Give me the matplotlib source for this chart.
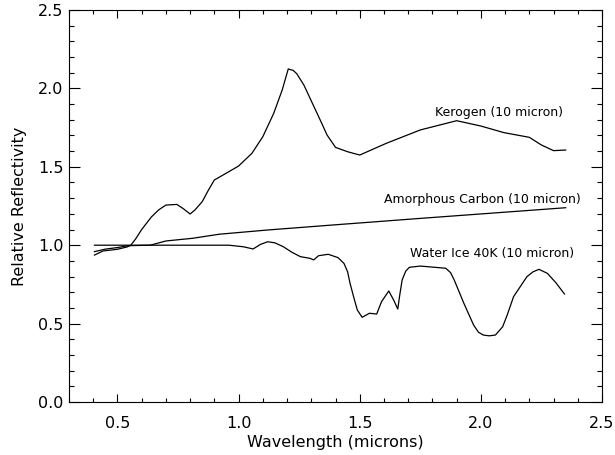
import matplotlib
matplotlib.use('Agg')
import matplotlib.pyplot as plt
from matplotlib.ticker import MultipleLocator

# ============================================================
# SPECTRA
# ============================================================
kerogen_wl = [0.405, 0.44, 0.50, 0.54, 0.555, 0.575, 0.60, 0.64, 0.67, 0.70,
              0.745, 0.77, 0.80, 0.82, 0.85, 0.875, 0.90, 0.95, 1.00, 1.055,
              1.10, 1.145, 1.18, 1.205, 1.225, 1.24, 1.27, 1.295, 1.34, 1.365,
              1.40, 1.45, 1.50, 1.61, 1.75, 1.90, 2.00, 2.095, 2.20, 2.25,
              2.30, 2.35]
kerogen_refl = [0.937, 0.963, 0.974, 0.989, 1.000, 1.040, 1.100, 1.180, 1.225, 1.256,
                1.260, 1.235, 1.199, 1.225, 1.278, 1.350, 1.416, 1.460, 1.505, 1.586,
                1.692, 1.841, 1.990, 2.124, 2.115, 2.094, 2.020, 1.937, 1.788, 1.703,
                1.624, 1.596, 1.575, 1.650, 1.735, 1.794, 1.760, 1.718, 1.688, 1.639,
                1.603, 1.607]

carbon_wl = [0.405, 0.45, 0.50, 0.545, 0.635, 0.70, 0.81, 0.92, 1.12, 1.39,
             1.75, 2.05, 2.35]
carbon_refl = [0.959, 0.975, 0.985, 0.997, 1.000, 1.027, 1.044, 1.070, 1.097, 1.129,
               1.171, 1.205, 1.239]

ice_wl = [0.405, 0.96, 1.02, 1.06, 1.09, 1.12, 1.15, 1.185, 1.22, 1.255,
          1.295, 1.31, 1.33, 1.37, 1.41, 1.435, 1.45, 1.46, 1.475, 1.49,
          1.51, 1.54, 1.57, 1.59, 1.62, 1.64, 1.657, 1.665, 1.675, 1.69,
          1.705, 1.75, 1.855, 1.875, 1.89, 1.93, 1.97, 1.99, 2.01, 2.035,
          2.06, 2.09, 2.11, 2.135, 2.19, 2.215, 2.24, 2.275, 2.31, 2.345]
ice_refl = [1.000, 1.000, 0.990, 0.976, 1.005, 1.022, 1.015, 0.990, 0.955, 0.927,
            0.916, 0.906, 0.933, 0.942, 0.921, 0.884, 0.830, 0.757, 0.670, 0.587,
            0.540, 0.566, 0.561, 0.640, 0.708, 0.650, 0.593, 0.680, 0.778, 0.835,
            0.859, 0.867, 0.853, 0.825, 0.778, 0.629, 0.491, 0.445, 0.427, 0.422,
            0.427, 0.480, 0.560, 0.672, 0.799, 0.830, 0.846, 0.820, 0.760, 0.689]

labels = ['Kerogen (10 micron)', 'Amorphous Carbon (10 micron)', 'Water Ice 40K (10 micron)']
label_x = [2.337, 2.412, 2.383]
label_y = [1.846, 1.293, 0.948]

# ============================================================
# PLOT
# ============================================================
fig = plt.figure(figsize=(6.15, 4.55), dpi=100)
ax = fig.add_axes([69/615, 53/455, 533/615, 392/455])

ax.plot(kerogen_wl, kerogen_refl, color='black', linewidth=0.9)
ax.plot(carbon_wl, carbon_refl, color='black', linewidth=0.9)
ax.plot(ice_wl, ice_refl, color='black', linewidth=0.9)

for txt, tx, ty in zip(labels, label_x, label_y):
    ax.text(tx, ty, txt, ha='right', va='center', fontsize=9)

ax.set_xlim(0.3, 2.5)
ax.set_ylim(0.0, 2.5)
ax.xaxis.set_major_locator(MultipleLocator(0.5))
ax.xaxis.set_minor_locator(MultipleLocator(0.1))
ax.yaxis.set_major_locator(MultipleLocator(0.5))
ax.yaxis.set_minor_locator(MultipleLocator(0.1))

ax.tick_params(axis='both', which='both', direction='in', top=True, right=True,
               width=0.8, labelsize=11.5)
ax.tick_params(axis='x', which='major', length=5.6, pad=10)
ax.tick_params(axis='x', which='minor', length=2.8)
ax.tick_params(axis='y', which='major', length=7.7, pad=4)
ax.tick_params(axis='y', which='minor', length=3.8)
for s in ax.spines.values():
    s.set_linewidth(0.8)

ax.set_xlabel('Wavelength (microns)', fontsize=11.5, labelpad=3)
ax.set_ylabel('Relative Reflectivity', fontsize=11.5, labelpad=8)

plt.savefig('out.png', dpi=100)
